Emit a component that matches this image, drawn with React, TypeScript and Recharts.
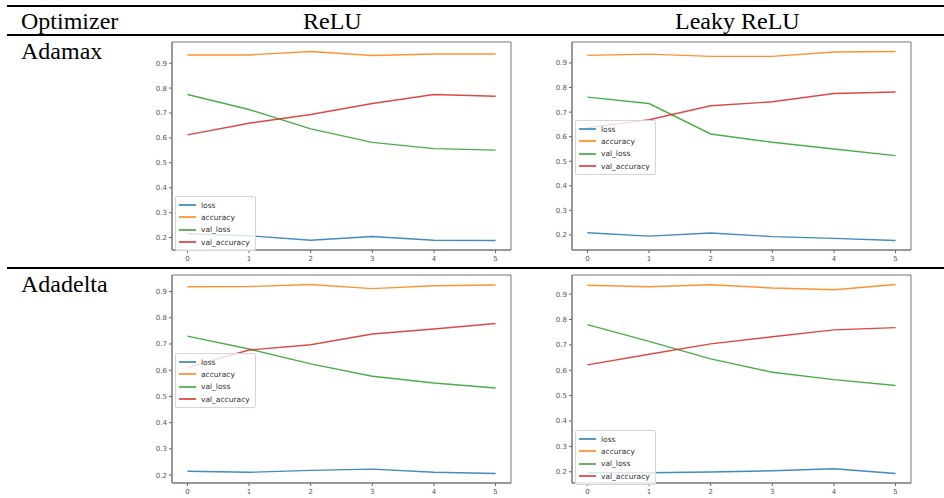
import React from "react";
import { LineChart, Line, XAxis, YAxis, ReferenceArea, Legend } from "recharts";

const epochs = [0, 1, 2, 3, 4, 5];
const seriesNames = ["loss", "accuracy", "val_loss", "val_accuracy"];
const seriesColors = ["#1f77b4", "#ff7f0e", "#2ca02c", "#d62728"];
const yTicks = [0.2, 0.3, 0.4, 0.5, 0.6, 0.7, 0.8, 0.9];

const columnHeaders = ["Optimizer", "ReLU", "Leaky ReLU"];
const rowLabels = ["Adamax", "Adadelta"];

// Adamax / ReLU
const adamaxReluLoss = [0.215, 0.207, 0.189, 0.204, 0.189, 0.188];
const adamaxReluAcc = [0.933, 0.933, 0.947, 0.931, 0.937, 0.937];
const adamaxReluValLoss = [0.774, 0.714, 0.636, 0.582, 0.557, 0.551];
const adamaxReluValAcc = [0.612, 0.659, 0.694, 0.738, 0.774, 0.767];

// Adamax / Leaky ReLU
const adamaxLeakyLoss = [0.209, 0.195, 0.208, 0.193, 0.186, 0.177];
const adamaxLeakyAcc = [0.931, 0.936, 0.927, 0.927, 0.945, 0.947];
const adamaxLeakyValLoss = [0.761, 0.735, 0.611, 0.577, 0.55, 0.523];
const adamaxLeakyValAcc = [0.636, 0.669, 0.726, 0.742, 0.776, 0.782];

// Adadelta / ReLU
const adadeltaReluLoss = [0.215, 0.211, 0.218, 0.223, 0.211, 0.206];
const adadeltaReluAcc = [0.918, 0.919, 0.927, 0.911, 0.922, 0.925];
const adadeltaReluValLoss = [0.73, 0.681, 0.624, 0.577, 0.551, 0.532];
const adadeltaReluValAcc = [0.611, 0.677, 0.697, 0.738, 0.757, 0.778];

// Adadelta / Leaky ReLU
const adadeltaLeakyLoss = [0.196, 0.196, 0.199, 0.204, 0.212, 0.193];
const adadeltaLeakyAcc = [0.935, 0.929, 0.937, 0.924, 0.917, 0.938];
const adadeltaLeakyValLoss = [0.78, 0.714, 0.645, 0.592, 0.563, 0.54];
const adadeltaLeakyValAcc = [0.621, 0.663, 0.704, 0.732, 0.759, 0.768];

const PLOT_W = 339;
const PLOT_H = 208;
const AXIS_W = 40;
const TOP_PAD = 6;

const buildRows = (series: number[][]) =>
    epochs.map((epoch, i) => {
        const row: Record<string, number> = { epoch };
        seriesNames.forEach((name, s) => { row[name] = series[s][i]; });
        return row;
    });

const MplLegend = () => (
    <div style={{
        background: "rgba(255,255,255,0.8)", border: "1px solid #d6d6d6", borderRadius: 2,
        padding: "2px 4px 2px 3px", width: 72, fontFamily: "DejaVu Sans", fontSize: 7.5, color: "#333"
    }}>
        {seriesNames.map((name, i) => (
            <div key={name} style={{ display: "flex", alignItems: "center", height: 12.3 }}>
                <span style={{ display: "inline-block", width: 17, height: 2, background: seriesColors[i], marginRight: 5, opacity: 0.75 }} />
                <span>{name}</span>
            </div>
        ))}
    </div>
);

interface PanelProps {
    series: number[][];
    left: number;
    top: number;
    legendTop: number;
}

const Panel: React.FC<PanelProps> = ({ series, left, top, legendTop }) => {
    const data = buildRows(series);
    const all = series.flat();
    const lo = Math.min(...all);
    const hi = Math.max(...all);
    const pad = (hi - lo) * 0.05;
    const yDomain: [number, number] = [lo - pad, hi + pad];
    const xDomain: [number, number] = [-0.25, 5.25];
    const tickStyle = { fontSize: 7, fill: "#555", fontFamily: "DejaVu Sans" };

    return (
        <div style={{ position: "absolute", left: left - AXIS_W, top: top - TOP_PAD }}>
            <LineChart
                width={AXIS_W + PLOT_W + 6}
                height={TOP_PAD + PLOT_H + 22}
                data={data}
                margin={{ top: TOP_PAD, right: 6, left: 0, bottom: 0 }}
            >
                <XAxis dataKey="epoch" type="number" domain={xDomain} ticks={epochs} height={22}
                    allowDataOverflow tick={tickStyle} tickSize={3} tickLine={{ stroke: "#666" }}
                    axisLine={{ stroke: "#777" }} tickMargin={3} />
                <YAxis type="number" domain={yDomain} ticks={yTicks} width={AXIS_W} allowDataOverflow
                    tick={tickStyle} tickSize={3} tickLine={{ stroke: "#666" }} axisLine={{ stroke: "#777" }}
                    tickFormatter={(v: number) => v.toFixed(1)} tickMargin={2} />
                <ReferenceArea x1={xDomain[0]} x2={xDomain[1]} y1={yDomain[0]} y2={yDomain[1]}
                    fill="none" stroke="#777" strokeWidth={1} />
                {seriesNames.map((name, i) => (
                    <Line key={name} type="linear" dataKey={name} stroke={seriesColors[i]} strokeWidth={1.4}
                        strokeOpacity={0.85} dot={false} isAnimationActive={false} />
                ))}
                <Legend layout="vertical" align="center" verticalAlign="middle" content={() => <MplLegend />}
                    wrapperStyle={{ left: 43, top: legendTop, width: "auto" }} />
            </LineChart>
        </div>
    );
};

const serif = { fontFamily: "Liberation Serif, Times New Roman, serif", fontSize: 24, color: "#000", lineHeight: 1 };

export default function App() {
    return (
        <div style={{ position: "absolute", left: 0, top: 0, width: 944, height: 498, background: "#fff", overflow: "hidden" }}>
            <div style={{ position: "absolute", left: 7, top: 5, width: 937, height: 2, background: "#000" }} />
            <div style={{ position: "absolute", left: 7, top: 34, width: 937, height: 1.5, background: "#000" }} />
            <div style={{ position: "absolute", left: 7, top: 267, width: 937, height: 2, background: "#000" }} />

            <span style={{ ...serif, position: "absolute", left: 21, top: 9 }}>{columnHeaders[0]}</span>
            <span style={{ ...serif, position: "absolute", left: 303, top: 9 }}>{columnHeaders[1]}</span>
            <span style={{ ...serif, position: "absolute", left: 675, top: 9 }}>{columnHeaders[2]}</span>
            <span style={{ ...serif, position: "absolute", left: 21, top: 39 }}>{rowLabels[0]}</span>
            <span style={{ ...serif, position: "absolute", left: 21, top: 272 }}>{rowLabels[1]}</span>

            <Panel series={[adamaxReluLoss, adamaxReluAcc, adamaxReluValLoss, adamaxReluValAcc]} left={172} top={42} legendTop={160} />
            <Panel series={[adamaxLeakyLoss, adamaxLeakyAcc, adamaxLeakyValLoss, adamaxLeakyValAcc]} left={572} top={42} legendTop={84} />
            <Panel series={[adadeltaReluLoss, adadeltaReluAcc, adadeltaReluValLoss, adadeltaReluValAcc]} left={172} top={275} legendTop={84} />
            <Panel series={[adadeltaLeakyLoss, adadeltaLeakyAcc, adadeltaLeakyValLoss, adadeltaLeakyValAcc]} left={572} top={275} legendTop={161} />
        </div>
    );
}
